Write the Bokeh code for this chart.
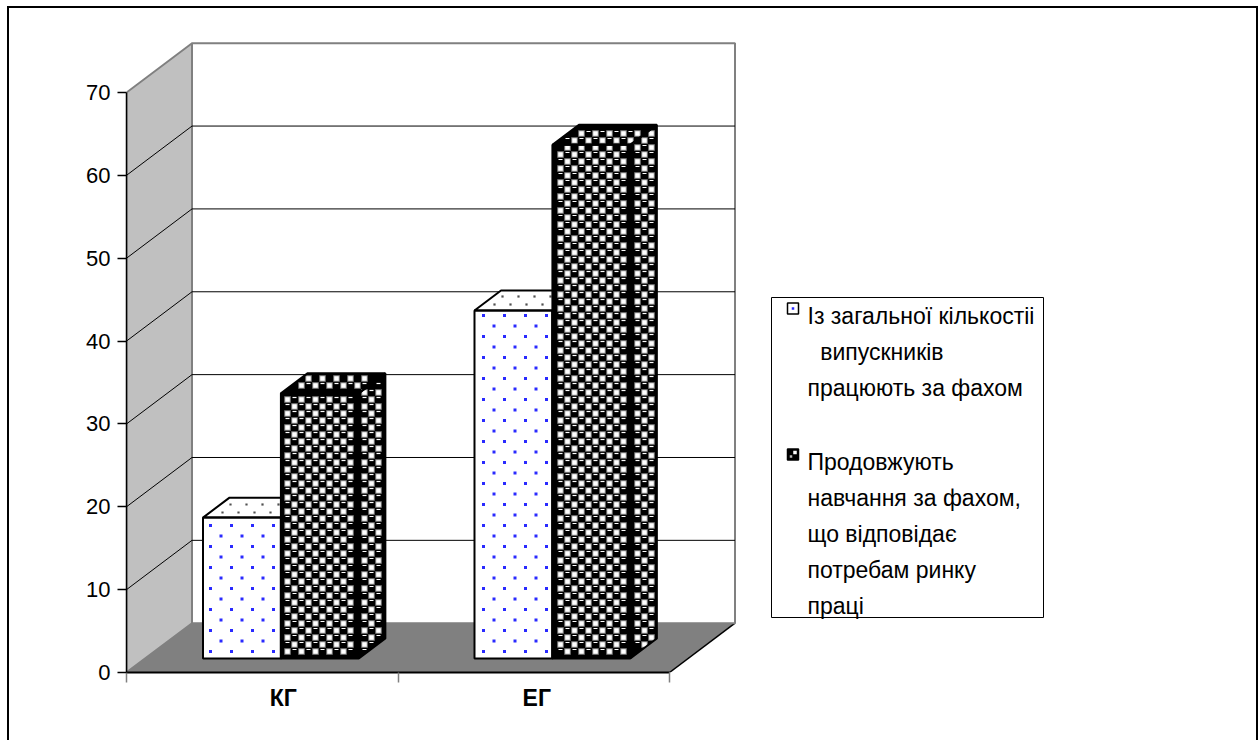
import numpy as np
from bokeh.plotting import figure
from bokeh.models import Range1d, FixedTicker
from bokeh.core.properties import value
from bokeh.embed import file_html
from bokeh.resources import INLINE

# ---------------- data ----------------
categories = ["КГ", "ЕГ"]
series_labels = [
    "Із загальної кількостіі\n\u00a0\u00a0випускників\nпрацюють за фахом",
    "Продовжують\nнавчання за фахом,\nщо відповідає\nпотребам ринку\nпраці",
]
work_by_profession = [17, 42]
continue_study = [32, 62]
y_ticks = [0, 10, 20, 30, 40, 50, 60, 70]

# ---------------- geometry / style (pixels) ----------------
W, H = 1259, 740
LEFT, BOTTOM, TOP, RIGHT = 126, 68, 10, 5
PX_X = 271.5          # px per category unit
PX_Y = 8.2857         # px per value unit
FRAME_W = W - LEFT - RIGHT
FRAME_H = H - BOTTOM - TOP
Y0 = H - BOTTOM       # canvas y of value 0
DEPTH_X = 65.5 / PX_X
DEPTH_Y = 49.3 / PX_Y
BAR_W = 0.287
D0, D1 = 0.285, 0.69
N = len(categories)
YMAX = y_ticks[-1]
LABEL_SHIFT_PX = [21, 3]


def P(X, Y, d):
    return X + d * DEPTH_X, Y + d * DEPTH_Y


def poly(pts):
    return [P(*q)[0] for q in pts], [P(*q)[1] for q in pts]


def cx(px):   # canvas px -> data x
    return (px - LEFT) / PX_X


def cy(py):   # canvas px -> data y
    return (Y0 - py) / PX_Y


def texture_points(xs, ys, step, parity, margin, shift=(0.0, 0.0)):
    px = np.array(xs) * PX_X
    py = np.array(ys) * PX_Y
    area = 0.5 * np.sum(px * np.roll(py, -1) - np.roll(px, -1) * py)
    sgn = 1.0 if area > 0 else -1.0
    a = np.arange(int(np.floor(px.min() / step)) - 1, int(np.ceil(px.max() / step)) + 2)
    b = np.arange(int(np.floor(py.min() / step)) - 1, int(np.ceil(py.max() / step)) + 2)
    A, B = np.meshgrid(a, b)
    A, B = A.ravel(), B.ravel()
    m = ((A + B) % 2) == parity
    qx = A[m] * step + shift[0]
    qy = B[m] * step + shift[1]
    inside = np.ones(len(qx), dtype=bool)
    n = len(px)
    for k in range(n):
        x1, y1 = px[k], py[k]
        x2, y2 = px[(k + 1) % n], py[(k + 1) % n]
        ex, ey = x2 - x1, y2 - y1
        L = np.hypot(ex, ey)
        d = sgn * (ex * (qy - y1) - ey * (qx - x1)) / L
        inside &= d >= margin
    return list(qx[inside] / PX_X), list(qy[inside] / PX_Y)


border_css = ("linear-gradient(#000,#000) 7px 6px / 2px 800px no-repeat, "
              "linear-gradient(#000,#000) 7px 6px / 1251px 2px no-repeat, "
              "linear-gradient(#000,#000) 1256px 6px / 2px 800px no-repeat")

p = figure(width=W, height=H, output_backend="svg", toolbar_location=None,
           x_range=Range1d(0, FRAME_W / PX_X), y_range=Range1d(0, FRAME_H / PX_Y),
           min_border_left=LEFT, min_border_bottom=BOTTOM, min_border_top=TOP,
           min_border_right=RIGHT)
p.outline_line_color = None
p.grid.visible = False
p.background_fill_color = "white"
p.border_fill_color = None
p.styles = {"background": border_css}

# floor
fx, fy = poly([(0, 0, 0), (N, 0, 0), (N, 0, 1), (0, 0, 1)])
p.patch(fx, fy, fill_color="#808080", line_color=None)
rx, ry = poly([(N, 0, 0), (N, 0, 1)])
p.line(rx, ry, line_color="#000000", line_width=1.5)

# left wall
lx, ly = poly([(0, 0, 0), (0, 0, 1), (0, YMAX, 1), (0, YMAX, 0)])
p.patch(lx, ly, fill_color="#C0C0C0", line_color="#808080", line_width=2)

# back wall
bx, by = poly([(0, 0, 1), (N, 0, 1), (N, YMAX, 1), (0, YMAX, 1)])
p.patch(bx, by, fill_color="#FFFFFF", line_color="#808080", line_width=2)

# gridlines (left wall diagonals + back wall)
gxs, gys = [], []
for v in y_ticks[1:-1]:
    a, b = poly([(0, v, 0), (0, v, 1), (N, v, 1)])
    gxs.append(a)
    gys.append(b)
p.multi_line(gxs, gys, line_color="#000000", line_width=1)

# ---------------- bars ----------------
series = [work_by_profession, continue_study]
faces = []
for j, vals in enumerate(series):
    sides, fronts, tops = [], [], []
    for i, v in enumerate(vals):
        c = i + 0.5
        x0 = c - BAR_W + j * BAR_W
        x1 = x0 + BAR_W
        sides.append(poly([(x1, 0, D0), (x1, 0, D1), (x1, v, D1), (x1, v, D0)]))
        fronts.append(poly([(x0, 0, D0), (x1, 0, D0), (x1, v, D0), (x0, v, D0)]))
        tops.append(poly([(x0, v, D0), (x1, v, D0), (x1, v, D1), (x0, v, D1)]))
    faces.append((sides, fronts, tops))


def xs_ys(fl):
    return [f[0] for f in fl], [f[1] for f in fl]


def dotted(fl, step, color, size, margin=2.5):
    X, Y = [], []
    for f in fl:
        a, b = texture_points(f[0], f[1], step, 0, margin)
        X += a
        Y += b
    p.scatter(X, Y, marker="square", size=size, fill_color=color, line_color=None)


def balls(fl, margin=2.0):
    WX, WY, HX, HY = [], [], [], []
    for f in fl:
        a, b = texture_points(f[0], f[1], 7.0, 0, margin)
        WX += a
        WY += b
        a, b = texture_points(f[0], f[1], 7.0, 1, margin + 1.5, shift=(0.0, 2.0))
        HX += a
        HY += b
    p.scatter(WX, WY, marker="square", size=6.5, fill_color="#8a8a8a", line_color=None)
    p.scatter(WX, WY, marker="square", size=4.5, fill_color="white", line_color=None)
    p.scatter(HX, HY, marker="dash", size=4, line_color="white", line_width=1.2)


# series 1 (dotted, white)
s_sides, s_fronts, s_tops = faces[0]
for fl in (s_sides, s_fronts, s_tops):
    p.patches(*xs_ys(fl), fill_color="white", line_color=None)
dotted(s_fronts, 10.5, "#2a2aff", 3)
dotted(s_tops, 8.0, "#505050", 2.2, margin=2.5)
for fl in (s_sides, s_fronts, s_tops):
    p.patches(*xs_ys(fl), fill_color=None, line_color="black", line_width=2)

# series 2 (black balls)
s_sides, s_fronts, s_tops = faces[1]
for fl in (s_sides, s_fronts, s_tops):
    p.patches(*xs_ys(fl), fill_color="black", line_color=None)
balls(s_sides + s_fronts + s_tops)
for fl in (s_sides, s_fronts, s_tops):
    p.patches(*xs_ys(fl), fill_color=None, line_color="black", line_width=2)

# ---------------- axes ----------------
yax = p.yaxis[0]
yax.ticker = FixedTicker(ticks=y_ticks)
yax.bounds = (0, YMAX)
yax.axis_line_color = "black"
yax.axis_line_width = 1.5
yax.major_tick_in = 0
yax.major_tick_out = 9
yax.major_tick_line_color = "black"
yax.major_tick_line_width = 1.5
yax.minor_tick_line_color = None
yax.major_label_text_font = "Liberation Sans"
yax.major_label_text_font_size = "22px"
yax.major_label_text_color = "black"
yax.major_label_standoff = 7

label_pos = [i + 0.5 + LABEL_SHIFT_PX[i] / PX_X for i in range(N)]
xax = p.xaxis[0]
xax.ticker = FixedTicker(ticks=label_pos, minor_ticks=list(range(N + 1)))
xax.bounds = (0, N)
xax.axis_line_color = "black"
xax.axis_line_width = 2
xax.major_tick_line_color = None
xax.major_tick_in = 0
xax.major_tick_out = 0
xax.minor_tick_in = 0
xax.minor_tick_out = 10
xax.minor_tick_line_color = "#808080"
xax.minor_tick_line_width = 1.5
xax.major_label_overrides = {label_pos[i]: categories[i] for i in range(N)}
xax.major_label_text_font = "Liberation Sans"
xax.major_label_text_font_style = "bold"
xax.major_label_text_font_size = "23px"
xax.major_label_text_color = "black"
xax.major_label_standoff = 2

# ---------------- legend (drawn) ----------------
LEG = dict(left=771, right=1043, top=297, bottom=617)
SW = 11
SW_X = 787
TXT_X = 807
FIRST_BASE = [315, 461]
PITCH = 36
FONT_PX = "23px"

p.quad(left=[cx(LEG["left"])], right=[cx(LEG["right"])],
       top=[cy(LEG["top"])], bottom=[cy(LEG["bottom"])],
       fill_color="white", line_color="black", line_width=1)

tx, ty, tt = [], [], []
for k, lab in enumerate(series_labels):
    for m, line in enumerate(lab.split("\n")):
        tx.append(cx(TXT_X))
        ty.append(cy(FIRST_BASE[k] + m * PITCH))
        tt.append(line)
p.text(tx, ty, text=tt, text_font=value("Liberation Sans"), text_font_size=FONT_PX,
       text_color="black", text_baseline="alphabetic", text_align="left")

sw_tops = [FIRST_BASE[k] - 12.5 for k in range(len(series_labels))]
sw = []
for top in sw_tops:
    sw.append(([cx(SW_X), cx(SW_X + SW), cx(SW_X + SW), cx(SW_X)],
               [cy(top + SW), cy(top + SW), cy(top), cy(top)]))
p.patches([sw[0][0]], [sw[0][1]], fill_color="white", line_color=None)
p.scatter([cx(SW_X + SW / 2)], [cy(sw_tops[0] + SW / 2)], marker="square",
          size=2.5, fill_color="#2a2aff", line_color=None)
p.patches([sw[1][0]], [sw[1][1]], fill_color="black", line_color=None)
p.scatter([cx(SW_X + 7.5)], [cy(sw_tops[1] + 3.5)], marker="square",
          size=3.5, fill_color="white", line_color=None)
p.scatter([cx(SW_X + 3.5)], [cy(sw_tops[1] + 7.5)], marker="square",
          size=2.5, fill_color="#bbbbbb", line_color=None)
p.patches([s[0] for s in sw], [s[1] for s in sw], fill_color=None,
          line_color="black", line_width=1.5)

open("out.html", "w").write(file_html(p, INLINE))
